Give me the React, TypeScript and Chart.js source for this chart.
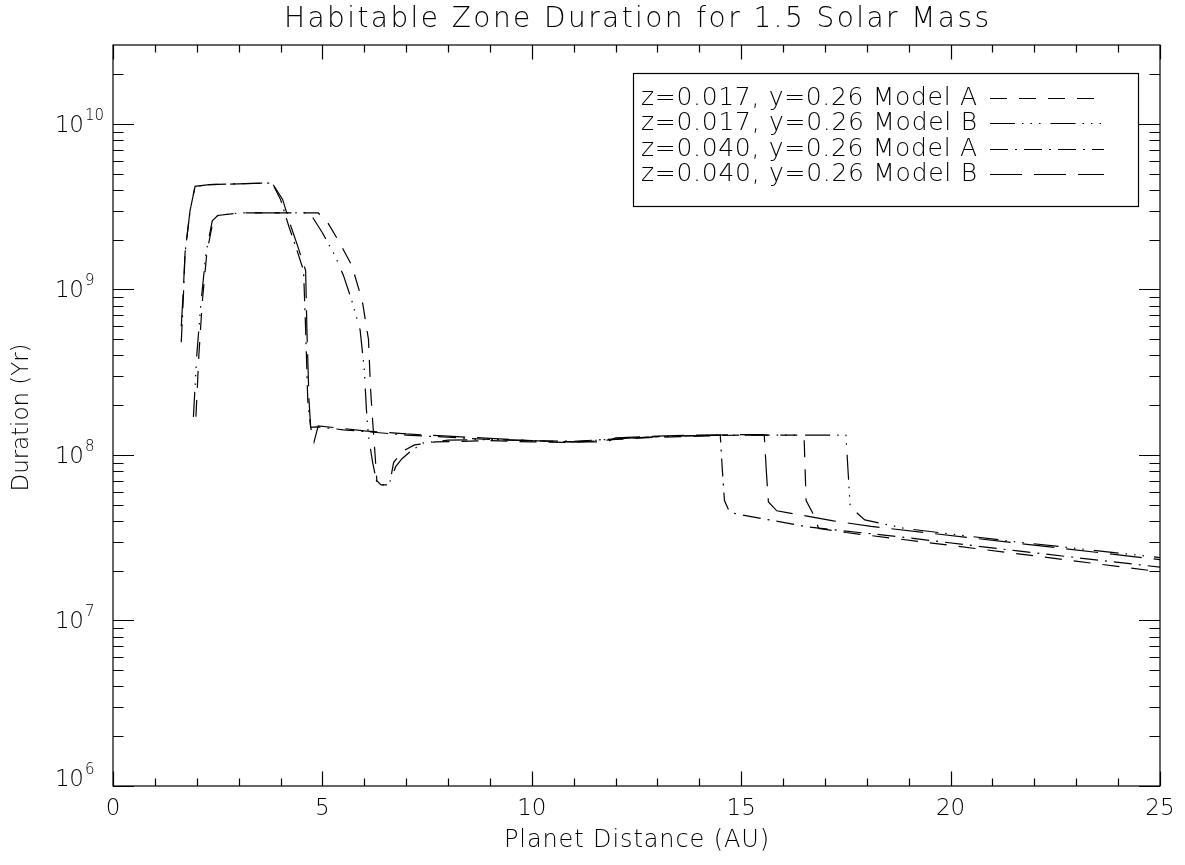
import React, { useEffect, useRef } from "react";
import { Chart, registerables } from "chart.js";
Chart.register(...registerables);

// ---------------- data ----------------
const titleText = "Habitable Zone Duration for 1.5 Solar Mass";
const xAxisTitle = "Planet Distance (AU)";
const yAxisTitle = "Duration (Yr)";
const xTickValues = [0, 5, 10, 15, 20, 25];
const xTickLabels = ["0", "5", "10", "15", "20", "25"];
const yDecadeExponents = [6, 7, 8, 9, 10];
const legendLabels = [
  "z=0.017, y=0.26 Model A",
  "z=0.017, y=0.26 Model B",
  "z=0.040, y=0.26 Model A",
  "z=0.040, y=0.26 Model B",
];

// z=0.017 Model A (dashed)
const z017A_x = [1.98, 2.05, 2.13, 2.24, 2.39, 2.5, 3.0, 4.0, 4.9, 5.1, 5.4, 5.7, 5.95, 6.1, 6.15, 6.2, 6.25, 6.3, 6.4, 6.55, 6.62, 6.7, 6.9, 7.2, 7.7, 9.0, 10.0, 11.0, 12.0, 13.0, 14.0, 15.0, 16.5, 16.55, 16.7, 16.85, 17.5, 18.8, 21.5, 25.0];
const z017A_y = [1.7e8, 4e8, 8.3e8, 1.66e9, 2.6e9, 2.8e9, 2.9e9, 2.9e9, 2.9e9, 2.6e9, 1.94e9, 1.4e9, 8.6e8, 5e8, 2.5e8, 1.6e8, 1.07e8, 7e7, 6.6e7, 6.6e7, 7e7, 9e7, 1.05e8, 1.15e8, 1.2e8, 1.22e8, 1.2e8, 1.19e8, 1.24e8, 1.28e8, 1.3e8, 1.32e8, 1.32e8, 5.3e7, 4.5e7, 3.6e7, 3.4e7, 3.1e7, 2.55e7, 1.97e7];

// z=0.017 Model B (dash dot dot dot)
const z017B_x = [1.92, 2.0, 2.1, 2.22, 2.37, 2.5, 3.0, 4.0, 4.7, 5.0, 5.3, 5.5, 5.7, 5.9, 6.0, 6.05, 6.1, 6.2, 6.3, 6.45, 6.6, 6.75, 6.9, 7.1, 7.4, 8.0, 9.0, 10.0, 11.0, 12.0, 13.0, 14.0, 15.0, 17.5, 17.6, 17.75, 17.95, 18.9, 21.5, 25.0];
const z017B_y = [1.7e8, 4e8, 8.3e8, 1.66e9, 2.6e9, 2.8e9, 2.9e9, 2.9e9, 2.9e9, 2.2e9, 1.6e9, 1.22e9, 8.6e8, 5.7e8, 3.3e8, 1.9e8, 1.3e8, 9e7, 6.8e7, 6.6e7, 6.8e7, 8.5e7, 9.5e7, 1.05e8, 1.18e8, 1.23e8, 1.24e8, 1.22e8, 1.2e8, 1.25e8, 1.29e8, 1.31e8, 1.32e8, 1.32e8, 5e7, 4.5e7, 4.05e7, 3.6e7, 3.0e7, 2.4e7];

// z=0.040 Model A (dash dot)
const z040A_x = [1.63, 1.68, 1.72, 1.84, 1.96, 2.3, 3.0, 3.8, 4.0, 4.2, 4.35, 4.55, 4.6, 4.65, 4.72, 4.85, 5.5, 6.1, 7.0, 8.0, 9.0, 10.0, 11.0, 12.0, 13.0, 14.0, 14.5, 14.55, 14.6, 14.7, 14.8, 16.6, 18.8, 21.5, 25.0];
const z040A_y = [4.8e8, 9e8, 1.66e9, 3e9, 4.2e9, 4.3e9, 4.35e9, 4.4e9, 3.5e9, 2.4e9, 1.86e9, 1.3e9, 5.7e8, 2.15e8, 1.47e8, 1.48e8, 1.42e8, 1.38e8, 1.32e8, 1.28e8, 1.24e8, 1.22e8, 1.21e8, 1.25e8, 1.29e8, 1.31e8, 1.32e8, 8.1e7, 5.3e7, 4.65e7, 4.45e7, 3.67e7, 3.2e7, 2.65e7, 2.1e7];

// z=0.040 Model B (long dashes)
const z040B_x = [1.63, 1.68, 1.72, 1.84, 1.96, 2.3, 3.0, 3.8, 4.05, 4.25, 4.4, 4.6, 4.63, 4.68, 4.72, 4.8, 4.9, 6.0, 7.0, 8.0, 9.0, 10.0, 11.0, 11.8, 12.0, 13.0, 14.0, 15.55, 15.6, 15.65, 15.85, 16.5, 17.2, 18.1, 21.5, 25.0];
const z040B_y = [6e8, 1e9, 1.66e9, 3e9, 4.2e9, 4.3e9, 4.35e9, 4.4e9, 3.5e9, 2.4e9, 1.86e9, 1.3e9, 5.7e8, 2.15e8, 1.47e8, 1.2e8, 1.5e8, 1.4e8, 1.34e8, 1.3e8, 1.26e8, 1.22e8, 1.2e8, 1.2e8, 1.27e8, 1.3e8, 1.32e8, 1.33e8, 8e7, 5.2e7, 4.6e7, 4.3e7, 4e7, 3.7e7, 2.95e7, 2.33e7];

const dashes = [
  [17, 12],
  [25, 7, 1.5, 7, 1.5, 7, 1.5, 10],
  [18, 7, 2, 7],
  [32, 12],
];

const FONT_FAMILY = '"DejaVu Sans", "Liberation Sans", sans-serif';
const FW = "200";

function drawSpaced(
  ctx: CanvasRenderingContext2D,
  text: string,
  x: number,
  y: number,
  size: number,
  target: number,
  align: "left" | "center" | "right"
) {
  ctx.font = `${FW} ${size}px ${FONT_FAMILY}`;
  ctx.textAlign = "left";
  const chars = Array.from(text);
  const widths = chars.map((c) => ctx.measureText(c).width);
  const natural = widths.reduce((a, b) => a + b, 0);
  const ls = target > 0 ? (target - natural) / Math.max(1, chars.length - 1) : 0;
  const total = natural + ls * (chars.length - 1);
  let cx = align === "left" ? x : align === "center" ? x - total / 2 : x - total;
  chars.forEach((c, i) => {
    ctx.fillText(c, cx, y);
    cx += widths[i] + ls;
  });
}

const idlFrame = {
  id: "idlFrame",
  afterDraw(chart: any) {
    const ctx: CanvasRenderingContext2D = chart.ctx;
    const a = chart.chartArea;
    const xs = chart.scales.x;
    const ys = chart.scales.y;
    ctx.save();
    ctx.strokeStyle = "#000";
    ctx.fillStyle = "#000";
    ctx.lineWidth = 1.2;
    ctx.setLineDash([]);
    // frame
    ctx.strokeRect(a.left, a.top, a.right - a.left, a.bottom - a.top);
    // x ticks
    ctx.beginPath();
    for (let v = 0; v <= 25; v++) {
      const px = Math.round(xs.getPixelForValue(v)) + 0.5;
      const len = v % 5 === 0 ? 14.5 : 7.5;
      ctx.moveTo(px, a.bottom);
      ctx.lineTo(px, a.bottom - len);
      ctx.moveTo(px, a.top);
      ctx.lineTo(px, a.top + len);
    }
    // y ticks
    const yMax = ys.max;
    for (const d of yDecadeExponents) {
      for (let m = 1; m <= 9; m++) {
        const v = m * Math.pow(10, d);
        if (v >= yMax) continue;
        const py = Math.round(ys.getPixelForValue(v)) + 0.5;
        const len = m === 1 ? 21 : 10.5;
        ctx.moveTo(a.left, py);
        ctx.lineTo(a.left + len, py);
        ctx.moveTo(a.right, py);
        ctx.lineTo(a.right - len, py);
      }
    }
    ctx.stroke();

    ctx.textBaseline = "middle";
    // x labels
    xTickValues.forEach((v, i) => {
      const px = xs.getPixelForValue(v);
      drawSpaced(ctx, xTickLabels[i], px, 809, 23, 0, "center");
    });
    // y labels
    yDecadeExponents.forEach((d) => {
      const py = ys.getPixelForValue(Math.pow(10, d));
      const cy = d === 6 ? py - 6 : py + 2;
      drawSpaced(ctx, "10", 84, cy, 23, 29, "right");
      drawSpaced(ctx, String(d), 85, cy - 10, 15, 0, "left");
    });
    // titles
    drawSpaced(ctx, titleText, (a.left + a.right) / 2, 20, 28, 705, "center");
    drawSpaced(ctx, xAxisTitle, (a.left + a.right) / 2, 841, 24, 265, "center");
    ctx.save();
    ctx.translate(22, (a.top + a.bottom) / 2 + 2);
    ctx.rotate(-Math.PI / 2);
    drawSpaced(ctx, yAxisTitle, 0, 0, 23, 148, "center");
    ctx.restore();

    // legend
    const bx = 633, by = 73, bw = 505, bh = 133;
    ctx.lineWidth = 1.2;
    ctx.strokeRect(bx + 0.5, by + 0.5, bw, bh);
    const rows = [98, 123, 149, 174];
    legendLabels.forEach((lab, i) => {
      drawSpaced(ctx, lab, 641, rows[i], 25, 336, "left");
      ctx.beginPath();
      ctx.setLineDash(dashes[i]);
      ctx.lineWidth = 1.2;
      ctx.moveTo(990, rows[i] + 0.5);
      ctx.lineTo(1104, rows[i] + 0.5);
      ctx.stroke();
    });
    ctx.setLineDash([]);
    ctx.restore();
  },
};

function makeData(xArr: number[], yArr: number[]) {
  return xArr.map((x, i) => ({ x, y: yArr[i] }));
}

export default function App() {
  const ref = useRef<HTMLCanvasElement | null>(null);
  useEffect(() => {
    if (!ref.current) return;
    const series = [
      makeData(z017A_x, z017A_y),
      makeData(z017B_x, z017B_y),
      makeData(z040A_x, z040A_y),
      makeData(z040B_x, z040B_y),
    ];
    const chart = new Chart(ref.current, {
      type: "line",
      data: {
        datasets: series.map((d, i) => ({
          label: legendLabels[i],
          data: d,
          borderColor: "#000",
          borderWidth: 1.2,
          borderDash: dashes[i],
          pointRadius: 0,
          fill: false,
          tension: 0,
        })),
      },
      options: {
        responsive: false,
        animation: false,
        devicePixelRatio: 1,
        layout: { padding: { left: 113, right: 25, top: 45, bottom: 79 } },
        plugins: { legend: { display: false }, tooltip: { enabled: false }, title: { display: false } },
        scales: {
          x: { type: "linear", min: 0, max: 25, display: false },
          y: { type: "logarithmic", min: 1e6, max: 3e10, display: false },
        },
      },
      plugins: [idlFrame],
    });
    return () => chart.destroy();
  }, []);
  return (
    <div style={{ position: "fixed", left: 0, top: 0, width: 1185, height: 865, background: "#fff" }}>
      <canvas ref={ref} width={1185} height={865} />
    </div>
  );
}
